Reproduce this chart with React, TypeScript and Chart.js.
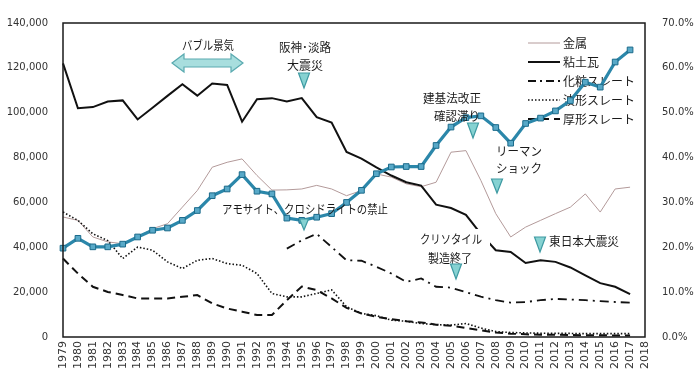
import React, { useEffect, useRef } from 'react';
import { Chart, registerables } from 'chart.js';
Chart.register(...registerables);

const years = ['1979','1980','1981','1982','1983','1984','1985','1986','1987','1988','1989','1990','1991','1992','1993','1994','1995','1996','1997','1998','1999','2000','2001','2002','2003','2004','2005','2006','2007','2008','2009','2010','2011','2012','2013','2014','2015','2016','2017','2018'];

// 金属
const metal = [53500,52000,44600,42400,41600,44600,48300,50500,57900,65300,75700,77900,79400,72000,65500,65600,66000,67600,66000,63000,65300,72700,71300,68300,67000,69000,82400,83100,69800,55000,44600,49000,52000,55000,57900,63800,55700,66000,66800,null];
// 粘土瓦
const clay = [122000,102000,102500,105000,105500,97000,102200,107500,112700,107600,113000,112400,96000,106000,106500,105000,106500,98000,95600,82500,79500,75600,72000,69000,67500,59000,57500,54500,46000,38700,37900,33000,34200,33500,31000,27500,24000,22400,19100,null];
// 化粧スレート
const colored = [null,null,null,null,null,null,null,null,null,null,null,null,null,null,null,39400,43100,46000,40100,34200,34000,31300,28300,24600,26100,22400,22000,20000,18000,16400,15300,15600,16400,17000,16700,16400,16000,15600,15300,null];
// 波形スレート
const wave = [55700,52000,46000,43000,35000,40100,38700,33500,30500,34200,35000,32700,32000,28300,19400,17900,17900,19400,21000,13500,10500,9500,7500,7000,6000,5500,5300,6000,4000,2400,2000,1800,1700,1600,1600,1500,1500,1500,1500,null];
// 厚形スレート
const thick = [35000,28300,22400,20100,18700,17200,17200,17200,17900,18700,15000,12700,11300,9800,9800,16400,22500,20900,17200,13000,10500,9000,8000,7000,6500,5500,5000,4000,3000,2000,1500,1200,1000,1000,900,800,800,700,700,null];
// 右軸 (%)
const share = [19.8,22.0,20.1,20.1,20.7,22.3,23.8,24.3,26.0,28.2,31.5,33.0,36.2,32.5,31.9,26.5,26.0,26.7,27.5,30.0,32.7,36.4,37.9,38.0,38.0,42.7,46.8,48.9,49.3,46.7,43.2,47.6,48.8,50.4,52.7,56.8,55.7,61.3,64.0,null];

const leftTicks = [0,20000,40000,60000,80000,100000,120000,140000];
const rightTicks = [0,10,20,30,40,50,60,70];

const legendItems = [
  { label: '金属', color: '#b39a9a', width: 1, dash: [] as number[] },
  { label: '粘土瓦', color: '#111', width: 2, dash: [] as number[] },
  { label: '化粧スレート', color: '#111', width: 2, dash: [8,4,2,4] },
  { label: '波形スレート', color: '#111', width: 1.6, dash: [1.5,2] },
  { label: '厚形スレート', color: '#111', width: 2, dash: [8,5] },
];

const JP = "'Noto Sans CJK JP', sans-serif";

function tri(ctx: CanvasRenderingContext2D, cx: number, top: number, w: number, h: number) {
  ctx.save();
  ctx.beginPath();
  ctx.moveTo(cx - w / 2, top);
  ctx.lineTo(cx + w / 2, top);
  ctx.lineTo(cx, top + h);
  ctx.closePath();
  ctx.fillStyle = '#86d2d2';
  ctx.fill();
  ctx.strokeStyle = '#3e9aa2';
  ctx.lineWidth = 1.2;
  ctx.stroke();
  ctx.restore();
}

function txt(ctx: CanvasRenderingContext2D, s: string, x: number, y: number, w: number, size = 12) {
  ctx.save();
  ctx.font = `${size}px ${JP}`;
  ctx.fillStyle = '#1a1a1a';
  ctx.textAlign = 'center';
  ctx.textBaseline = 'middle';
  const m = ctx.measureText(s).width;
  if (m > w) ctx.fillText(s, x, y, w); else ctx.fillText(s, x, y);
  ctx.restore();
}

const deco = {
  id: 'deco',
  beforeDraw(chart: any) {
    const ctx = chart.ctx;
    ctx.save();
    ctx.fillStyle = '#fff';
    ctx.fillRect(0, 0, chart.width, chart.height);
    ctx.restore();
  },
  beforeDatasetsDraw(chart: any) {
    const ctx: CanvasRenderingContext2D = chart.ctx;
    const ys = [43, 62, 81, 100, 119];
    legendItems.forEach((it, i) => {
      ctx.save();
      ctx.strokeStyle = it.color;
      ctx.lineWidth = it.width;
      ctx.setLineDash(it.dash);
      ctx.beginPath();
      ctx.moveTo(528, ys[i]);
      ctx.lineTo(560, ys[i]);
      ctx.stroke();
      ctx.restore();
      ctx.save();
      ctx.font = `12px ${JP}`;
      ctx.fillStyle = '#1a1a1a';
      ctx.textAlign = 'left';
      ctx.textBaseline = 'middle';
      ctx.fillText(it.label, 563, ys[i]);
      ctx.restore();
    });
  },
  afterDatasetsDraw(chart: any) {
    const ctx: CanvasRenderingContext2D = chart.ctx;
    // bubble arrow
    const x1 = 172, x2 = 243, cy = 63, hl = 12, hh = 9, sh = 4;
    ctx.save();
    ctx.beginPath();
    ctx.moveTo(x1, cy);
    ctx.lineTo(x1 + hl, cy - hh);
    ctx.lineTo(x1 + hl, cy - sh);
    ctx.lineTo(x2 - hl, cy - sh);
    ctx.lineTo(x2 - hl, cy - hh);
    ctx.lineTo(x2, cy);
    ctx.lineTo(x2 - hl, cy + hh);
    ctx.lineTo(x2 - hl, cy + sh);
    ctx.lineTo(x1 + hl, cy + sh);
    ctx.lineTo(x1 + hl, cy + hh);
    ctx.closePath();
    ctx.fillStyle = '#a8dede';
    ctx.fill();
    ctx.strokeStyle = '#5aaab0';
    ctx.lineWidth = 1.2;
    ctx.stroke();
    ctx.restore();

    txt(ctx, 'バブル景気', 208, 45, 52);
    txt(ctx, '阪神･淡路', 305, 47, 52);
    txt(ctx, '大震災', 305, 65, 36);
    tri(ctx, 304, 73, 11, 15);
    txt(ctx, '建基法改正', 452, 98, 58);
    txt(ctx, '確認滞り', 457, 116, 46);
    tri(ctx, 473, 123, 11, 15);
    txt(ctx, 'リーマン', 519, 151, 46);
    txt(ctx, 'ショック', 519, 168, 46);
    tri(ctx, 497, 179, 11, 14);
    txt(ctx, 'アモサイト、クロシドライトの禁止', 305, 209, 166);
    tri(ctx, 304, 219, 9, 11);
    ctx.save();
    ctx.fillStyle = '#fff';
    ctx.fillRect(474, 229, 16, 19);
    ctx.restore();
    txt(ctx, 'クリソタイル', 451, 239, 62);
    txt(ctx, '製造終了', 450, 258, 44);
    tri(ctx, 456, 264, 11, 15);
    txt(ctx, '東日本大震災', 584, 241, 70);
    tri(ctx, 540, 237, 11, 15);
  },
  afterDraw(chart: any) {
    const ctx: CanvasRenderingContext2D = chart.ctx;
    const a = chart.chartArea;
    ctx.save();
    ctx.strokeStyle = '#1a1a1a';
    ctx.lineWidth = 1.5;
    ctx.strokeRect(a.left, a.top, a.right - a.left, a.bottom - a.top);
    ctx.restore();
  },
};

export default function App() {
  const ref = useRef<HTMLCanvasElement>(null);
  useEffect(() => {
    if (!ref.current) return;
    Chart.defaults.font.family = "'DejaVu Sans', sans-serif";
    const line = (label: string, data: any[], color: string, width: number, dash: number[], order: number) => ({
      label, data, borderColor: color, borderWidth: width, borderDash: dash,
      pointRadius: 0, fill: false, tension: 0, yAxisID: 'y', order, spanGaps: false,
    });
    const chart = new Chart(ref.current, {
      type: 'line',
      data: {
        labels: years,
        datasets: [
          {
            label: 'share', data: share, yAxisID: 'y1', order: 0,
            borderColor: '#2b87aa', borderWidth: 3.2, tension: 0,
            pointStyle: 'rect', pointRadius: 4, pointBackgroundColor: '#58a9c8',
            pointBorderColor: '#1b6a8a', pointBorderWidth: 1, clip: false,
          } as any,
          line('金属', metal, '#b39a9a', 1, [], 5),
          line('粘土瓦', clay, '#111', 2, [], 1),
          line('化粧スレート', colored, '#111', 1.8, [9, 5, 2, 5], 2),
          line('波形スレート', wave, '#111', 1.6, [1.5, 2], 3),
          line('厚形スレート', thick, '#111', 2, [8, 5], 4),
        ],
      },
      options: {
        responsive: false,
        animation: false,
        layout: { padding: { top: 22, left: 0, right: 0, bottom: 0 } },
        plugins: { legend: { display: false }, tooltip: { enabled: false } },
        scales: {
          x: {
            type: 'category',
            offset: false,
            grid: { display: false, drawTicks: false },
            border: { display: false },
            ticks: { autoSkip: false, maxRotation: 90, minRotation: 90, padding: 4, color: '#333', font: { size: 11 } },
            afterFit: (s: any) => { s.height = 38; },
          },
          y: {
            position: 'left',
            min: 0, max: 140000,
            grid: { display: false, drawTicks: false },
            border: { display: false },
            afterBuildTicks: (s: any) => { s.ticks = leftTicks.map((v) => ({ value: v })); },
            ticks: {
              padding: 15, color: '#333', font: { size: 10 },
              callback: (v: any) => Number(v).toLocaleString('en-US'),
            },
            afterFit: (s: any) => { s.width = 63; },
          },
          y1: {
            position: 'right',
            min: 0, max: 70,
            grid: { display: false, drawTicks: false },
            border: { display: false },
            afterBuildTicks: (s: any) => { s.ticks = rightTicks.map((v) => ({ value: v })); },
            ticks: {
              padding: 17, color: '#333', font: { size: 10 },
              callback: (v: any) => Number(v).toFixed(1) + '%',
            },
            afterFit: (s: any) => { s.width = 55; },
          },
        },
      } as any,
      plugins: [deco],
    });
    return () => chart.destroy();
  }, []);
  return (
    <div style={{ position: 'absolute', left: 0, top: 0, width: 700, height: 375, background: '#fff' }}>
      <canvas ref={ref} width={700} height={375} style={{ display: 'block' }} />
    </div>
  );
}
